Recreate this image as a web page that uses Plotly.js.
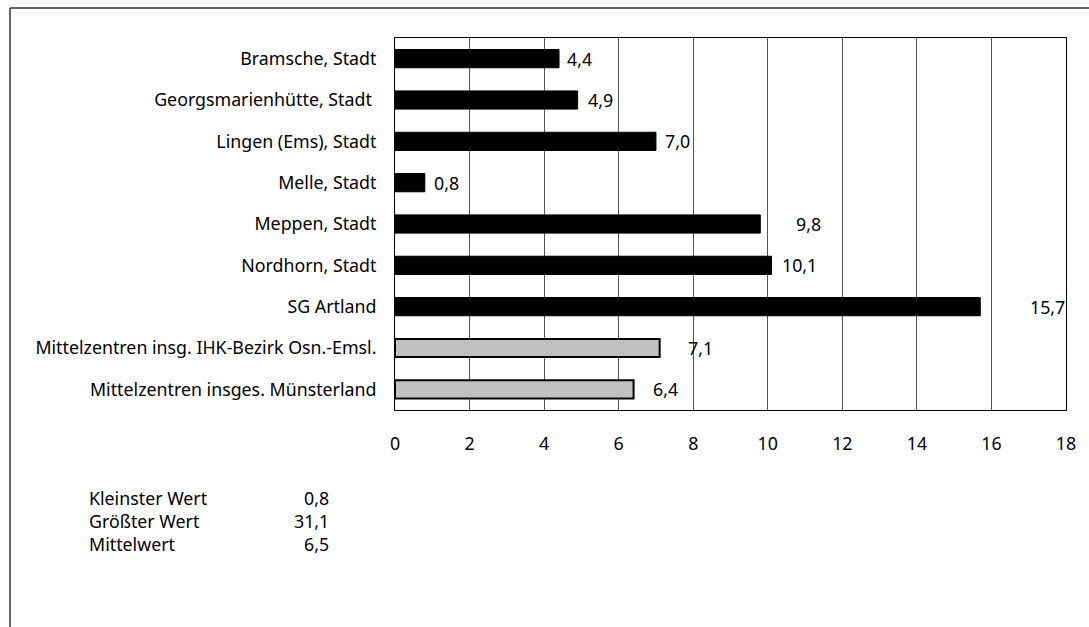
<!DOCTYPE html>
<html>
<head>
<meta charset="utf-8">
<script src="https://cdn.plot.ly/plotly-3.0.1.min.js"></script>
<style>
html,body{margin:0;padding:0;background:#fff;}
#chart{width:1089px;height:627px;}
</style>
</head>
<body>
<div id="chart"></div>
<script>
const categories = [
  "Bramsche, Stadt",
  "Georgsmarienhütte, Stadt ",
  "Lingen (Ems), Stadt",
  "Melle, Stadt",
  "Meppen, Stadt",
  "Nordhorn, Stadt",
  "SG Artland",
  "Mittelzentren insg. IHK-Bezirk Osn.-Emsl.",
  "Mittelzentren insges. Münsterland"
];
const values = [4.4, 4.9, 7.0, 0.8, 9.8, 10.1, 15.7, 7.1, 6.4];
const valueLabels = ["4,4", "4,9", "7,0", "0,8", "9,8", "10,1", "15,7", "7,1", "6,4"];
const isAggregate = [false, false, false, false, false, false, false, true, true];
const labelShiftPx = [6, 8, 7, 7, 34, 8, 48, 26, 17];
const xTicks = [0, 2, 4, 6, 8, 10, 12, 14, 16, 18];
const statNames = ["Kleinster Wert", "Größter Wert", "Mittelwert"];
const statValues = ["0,8", "31,1", "6,5"];

const FONT = "Noto Sans, sans-serif";
const FS = 17.8;
const plotL = 395, plotR = 1066, plotT = 38, plotB = 410, W = 1089, H = 627;
const pw = plotR - plotL, ph = plotB - plotT;
const px2x = x => (x - plotL) / pw;
const px2y = y => (plotB - y) / ph;

const trace = {
  type: "bar",
  orientation: "h",
  y: categories,
  x: values,
  width: 0.44,
  marker: {
    color: isAggregate.map(a => a ? "#c0c0c0" : "#000000"),
    line: {color: "#000000", width: isAggregate.map(a => a ? 2 : 1)}
  },
  hoverinfo: "none"
};

const annotations = categories.map((c, i) => ({
  x: values[i], y: c, xref: "x", yref: "y",
  text: valueLabels[i], showarrow: false,
  xanchor: "left", yanchor: "middle", xshift: labelShiftPx[i],
  font: {family: FONT, size: FS, color: "#000"}
}));

const statY = [498, 521, 544];
statNames.forEach((n, i) => {
  annotations.push({
    xref: "paper", yref: "paper", x: px2x(87), y: px2y(statY[i]),
    text: n, showarrow: false, xanchor: "left", yanchor: "middle",
    font: {family: FONT, size: FS, color: "#000"}
  });
  annotations.push({
    xref: "paper", yref: "paper", x: px2x(331), y: px2y(statY[i]),
    text: statValues[i], showarrow: false, xanchor: "right", yanchor: "middle",
    font: {family: FONT, size: FS, color: "#000"}
  });
});

const layout = {
  width: W, height: H,
  margin: {l: plotL, r: W - plotR, t: plotT, b: H - plotB, pad: 0},
  paper_bgcolor: "#fff", plot_bgcolor: "#fff",
  showlegend: false,
  font: {family: FONT, size: FS, color: "#000"},
  xaxis: {
    range: [0, 18], tickvals: xTicks, ticktext: xTicks.map(String),
    showgrid: true, gridcolor: "#555", gridwidth: 1,
    zeroline: false, showline: true, linecolor: "#000", linewidth: 1, mirror: true,
    ticks: "", ticklabelstandoff: 18,
    tickfont: {family: FONT, size: FS, color: "#000"}, fixedrange: true
  },
  yaxis: {
    type: "category", autorange: "reversed",
    showgrid: false, zeroline: false, showline: true, linecolor: "#000", linewidth: 1, mirror: true,
    ticks: "", ticklabelstandoff: 14,
    tickfont: {family: FONT, size: FS, color: "#000"}, fixedrange: true
  },
  annotations: annotations,
  shapes: [
    {type: "line", xref: "paper", yref: "paper", x0: px2x(10), x1: px2x(W + 5), y0: px2y(8), y1: px2y(8), line: {color: "#333", width: 1.5}},
    {type: "line", xref: "paper", yref: "paper", x0: px2x(10), x1: px2x(10), y0: px2y(8), y1: px2y(H + 5), line: {color: "#333", width: 1.5}}
  ]
};

Plotly.newPlot("chart", [trace], layout, {displayModeBar: false, staticPlot: true});
</script>
</body>
</html>
